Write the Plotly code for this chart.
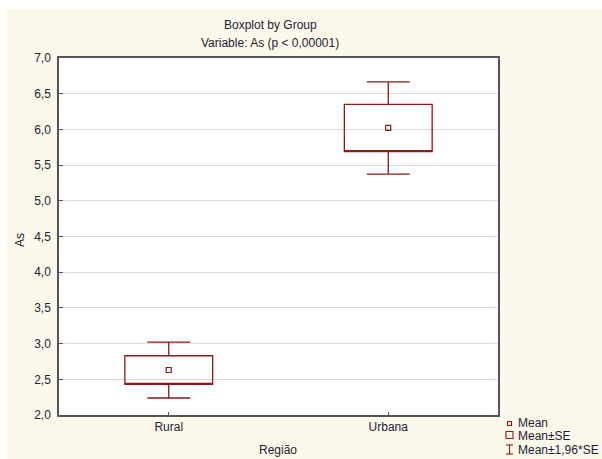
import plotly.graph_objects as go

# Group means and standard errors of As
groups = ["Rural", "Urbana"]
means = [2.63, 6.02]
se = [0.20, 0.33]
ci_mult = 1.96

y_ticks = [2.0, 2.5, 3.0, 3.5, 4.0, 4.5, 5.0, 5.5, 6.0, 6.5, 7.0]

RED = "#8B1A1A"
CREAM = "#FDF8EC"
TXT = "#1E2230"
FONT = "Liberation Sans, Arial, sans-serif"

W, H = 602, 459
L, R, T, B = 59, 104, 58, 44
PW, PH = W - L - R, H - T - B


def px(x):
    return (x - L) / PW


def py(y):
    return (H - B - y) / PH


lo_se = [m - s for m, s in zip(means, se)]
hi_se = [m + s for m, s in zip(means, se)]
lo_ci = [m - ci_mult * s for m, s in zip(means, se)]
hi_ci = [m + ci_mult * s for m, s in zip(means, se)]

fig = go.Figure()
fig.add_trace(go.Box(
    x=groups,
    q1=lo_se, median=lo_se, q3=hi_se,
    lowerfence=lo_ci, upperfence=hi_ci,
    boxpoints=False,
    width=0.4, whiskerwidth=0.49,
    fillcolor="rgba(255,255,255,0)",
    line=dict(color=RED, width=1.3),
    hoverinfo="skip",
))
fig.add_trace(go.Scatter(
    x=groups, y=means, mode="markers",
    marker=dict(symbol="square-open", size=5, color=RED, line=dict(width=1.2, color=RED)),
    hoverinfo="skip",
))

shapes = [
    # white strips framing the cream panel
    dict(type="rect", xref="paper", yref="paper", x0=px(0), x1=px(W), y0=py(0), y1=py(9),
         fillcolor="white", line=dict(width=0), layer="below"),
    dict(type="rect", xref="paper", yref="paper", x0=px(0), x1=px(7), y0=py(0), y1=py(H),
         fillcolor="white", line=dict(width=0), layer="below"),
    # legend glyphs
    dict(type="rect", xref="paper", yref="paper", x0=px(507.5), x1=px(511.5), y0=py(425.5), y1=py(421.5),
         line=dict(color=RED, width=1.1)),
    dict(type="rect", xref="paper", yref="paper", x0=px(506), x1=px(513), y0=py(438.5), y1=py(431.5),
         line=dict(color=RED, width=1.1)),
    dict(type="line", xref="paper", yref="paper", x0=px(509.5), x1=px(509.5), y0=py(454), y1=py(445),
         line=dict(color=RED, width=1.1)),
    dict(type="line", xref="paper", yref="paper", x0=px(506), x1=px(513), y0=py(445), y1=py(445),
         line=dict(color=RED, width=1.1)),
    dict(type="line", xref="paper", yref="paper", x0=px(506), x1=px(513), y0=py(454), y1=py(454),
         line=dict(color=RED, width=1.1)),
]

annotations = [
    dict(text="Boxplot by Group", x=px(270), y=py(25), xref="paper", yref="paper",
         showarrow=False, xanchor="center", yanchor="middle", font=dict(size=12, color=TXT)),
    dict(text="Variable: As (p < 0,00001)", x=px(270), y=py(43), xref="paper", yref="paper",
         showarrow=False, xanchor="center", yanchor="middle", font=dict(size=12, color=TXT)),
    dict(text="As", x=px(20), y=py(240), xref="paper", yref="paper", textangle=-90,
         showarrow=False, xanchor="center", yanchor="middle", font=dict(size=12, color=TXT)),
    dict(text="Região", x=px(278), y=py(450), xref="paper", yref="paper",
         showarrow=False, xanchor="center", yanchor="middle", font=dict(size=12, color=TXT)),
]
for label, yy in [("Mean", 423), ("Mean±SE", 435.5), ("Mean±1,96*SE", 449.5)]:
    annotations.append(dict(text=label, x=px(516), y=py(yy), xref="paper", yref="paper",
                            showarrow=False, xanchor="left", yanchor="middle",
                            font=dict(size=12, color=TXT)))

fig.update_layout(
    width=W, height=H,
    margin=dict(l=L, r=R, t=T, b=B),
    paper_bgcolor=CREAM, plot_bgcolor="white",
    separators=",.",
    showlegend=False,
    font=dict(family=FONT, size=12, color=TXT),
    shapes=shapes, annotations=annotations,
    xaxis=dict(type="category", range=[-0.5, 1.5], showline=True, mirror=True,
               linecolor="#555555", linewidth=1.5, ticks="inside", ticklen=3,
               tickcolor="#555555", showgrid=False, fixedrange=True),
    yaxis=dict(range=[2, 7], tickvals=y_ticks, tickformat=".1f", showline=True, mirror=True,
               linecolor="#555555", linewidth=1.5, ticks="inside", ticklen=4,
               tickcolor="#555555", showgrid=True, gridcolor="#DCDCDC", gridwidth=1,
               zeroline=False, ticklabelstandoff=4, fixedrange=True),
)

fig.write_html("out.html", config={"displayModeBar": False})
